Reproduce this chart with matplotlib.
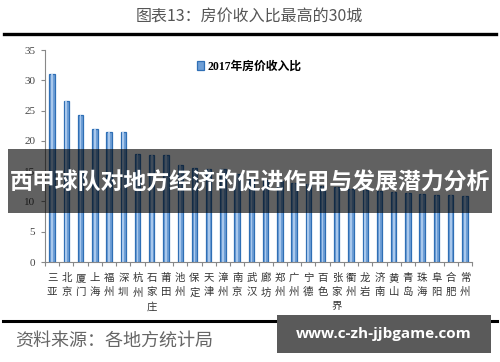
import matplotlib
matplotlib.use("Agg")
import matplotlib.pyplot as plt
from matplotlib.patches import Rectangle
from matplotlib.lines import Line2D

plt.rcParams['font.family'] = ['Noto Sans CJK SC', 'DejaVu Sans']

cities = ["三亚", "北京", "厦门", "上海", "福州", "深圳", "杭州", "石家庄", "莆田", "池州",
          "保定", "天津", "漳州", "南京", "武汉", "廊坊", "郑州", "广州", "宁德", "百色",
          "张家界", "衢州", "龙岩", "济南", "黄山", "青岛", "珠海", "阜阳", "合肥", "常州"]
values = [31.0, 26.5, 24.2, 21.9, 21.4, 21.4, 17.9, 17.7, 17.6, 16.0,
          15.6, 15.3, 15.3, 14.5, 14.0, 13.6, 13.3, 13.0, 12.8, 12.5,
          12.3, 12.1, 11.9, 11.8, 11.6, 11.4, 11.3, 11.1, 11.0, 10.9]
yticks = [0, 5, 10, 15, 20, 25, 30, 35]
series_name = "2017年房价收入比"
title = "图表13：房价收入比最高的30城"
banner = "西甲球队对地方经济的促进作用与发展潜力分析"
source = "资料来源：各地方统计局"
watermark = "www.c-zh-jjbgame.com"

W, H = 500, 362
fig = plt.figure(figsize=(W / 100, H / 100), dpi=100)
fig.patch.set_facecolor("white")

def fx(px):
    return px / W

def fy(py):
    return 1 - py / H

# Title + rule
fig.text(fx(249), fy(17), title, ha="center", va="center", fontsize=11.5, color="#555555")
fig.add_artist(Line2D([fx(4), fx(496)], [fy(34), fy(34)], color="black", lw=2.4))

# Axes
ax = fig.add_axes([fx(45), fy(262), fx(472) - fx(45), fy(50) - fy(262)])
x = list(range(len(cities)))
ax.bar(x, values, width=0.38, color="#6f9fd6", edgecolor="#2f6fb5", linewidth=0.9,
       label=series_name)
ax.bar(x, values, width=0.12, color="#a9c8ec", linewidth=0)
ax.set_xlim(-0.5, len(cities) - 0.5)
ax.set_ylim(0, 35)
ax.set_yticks(yticks)
ax.set_yticklabels([str(v) for v in yticks], family="Liberation Serif", fontsize=8, color="#444444")
for s in ["top", "right"]:
    ax.spines[s].set_visible(False)
ax.spines["left"].set_color("#888888")
ax.spines["bottom"].set_color("#888888")
ax.tick_params(axis="y", length=3, color="#888888", pad=4)
ax.set_xticks([i - 0.5 for i in range(len(cities) + 1)], minor=False)
ax.set_xticklabels([])
ax.tick_params(axis="x", length=3, color="#888888")
ax.set_xticks(x, minor=True)
ax.set_xticklabels(["\n".join(c) for c in cities], minor=True, fontsize=7.5,
                   color="#333333", linespacing=1.5, va="top")
ax.tick_params(axis="x", which="minor", length=0, pad=8)

leg = ax.legend(loc="upper left", bbox_to_anchor=(0.33, 1.0), frameon=False,
                handlelength=0.6, handleheight=0.9, handletextpad=0.3,
                prop={"family": ["Liberation Serif", "Noto Sans CJK SC"], "weight": "bold", "size": 8.5})

# Banner overlay
fig.add_artist(Rectangle((fx(8), fy(213)), fx(492) - fx(8), fy(149) - fy(213),
                         transform=fig.transFigure, facecolor="black", alpha=0.62,
                         edgecolor="none", zorder=10))
fig.text(fx(250), fy(183), banner, ha="center", va="center", fontsize=16.5,
         color="white", weight="bold", zorder=11)

# Bottom rule + source
fig.add_artist(Line2D([fx(3), fx(497)], [fy(321), fy(321)], color="black", lw=2.2))
fig.text(fx(15), fy(341), source, ha="left", va="center", fontsize=13, color="#666666",
         style="italic")
fig.add_artist(Rectangle((fx(277), fy(353)), fx(491) - fx(277), fy(315) - fy(353),
                         transform=fig.transFigure, facecolor="#5a5a5a",
                         edgecolor="none", zorder=10))
fig.text(fx(384), fy(334), watermark, ha="center", va="center", fontsize=11,
         color="white", weight="bold", family="Open Sans", zorder=11)

fig.savefig("out.png", dpi=100)
